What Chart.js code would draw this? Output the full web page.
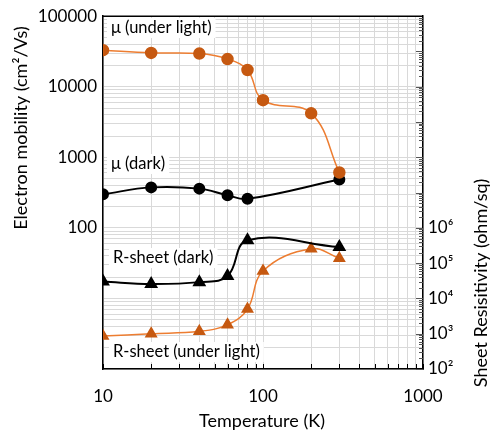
<!DOCTYPE html>
<html>
<head>
<meta charset="utf-8">
<script src="https://cdn.jsdelivr.net/npm/chart.js@4.4.1/dist/chart.umd.min.js"></script>
<style>
    html, body { margin: 0; padding: 0; background: #fff; }
    #wrap { width: 491px; height: 433px; }
</style>
</head>
<body>
<div id="wrap"><canvas id="mobilityChart" width="491" height="433"></canvas></div>
<script>
// temperatures (K)
const tempLight = [10, 20, 40, 60, 80, 100, 200, 300];
const tempDark = [10, 20, 40, 60, 80, 300];

// electron mobility (cm2/Vs), left axis
const muLight = [33000, 30200, 29500, 24700, 17300, 6450, 4200, 610];
const muDark = [299, 375, 360, 290, 258, 486];

// sheet resistivity (ohm/sq), right axis
const rDark = [30200, 25500, 29000, 43000, 447000, 285000];
const rLight = [860, 1000, 1170, 1800, 5000, 60000, 256000, 137000];

// tick labels
const xTickLabels = [10, 100, 1000];
const leftTickLabels = [100, 1000, 10000, 100000];
const rightTickLabels = { 2: '10²', 3: '10³', 4: '10⁴', 5: '10⁵', 6: '10⁶' };

const FONT = 'Lato, "Open Sans", sans-serif';
const ORANGE_LINE = '#ED7D31';
const ORANGE_MARK = '#C65911';
const GRID = '#d9d9d9';

function logTicks(min, max) {
    let out = [];
    for (let k = Math.floor(Math.log10(min)); k <= Math.ceil(Math.log10(max)); k++) {
        for (let m = 1; m <= 9; m++) {
            let v = m * Math.pow(10, k);
            if (v >= min && v <= max) out.push({ value: v });
        }
    }
    return out;
}

function isDecade(v) {
    let l = Math.log10(v);
    return Math.abs(l - Math.round(l)) < 1e-9;
}

function pts(xs, ys) {
    return xs.map((x, i) => ({ x: x, y: ys[i] }));
}

// text labels inside the plot, white boxes behind them
const seriesLabels = [
    { text: 'μ (under light)', x: 111, y: 28 },
    { text: 'μ (dark)', x: 111, y: 164 },
    { text: 'R-sheet (dark)', x: 113, y: 258 },
    { text: 'R-sheet (under light)', x: 113, y: 352 }
];

const decorPlugin = {
    id: 'decor',
    beforeDatasetsDraw(chart) {
        const ctx = chart.ctx;
        ctx.save();
        ctx.font = '16.5px ' + FONT;
        ctx.textBaseline = 'middle';
        seriesLabels.forEach(l => {
            let w = ctx.measureText(l.text).width;
            ctx.fillStyle = '#fff';
            ctx.fillRect(l.x - 4, l.y - 10, w + 8, 20);
            ctx.fillStyle = '#000';
            ctx.fillText(l.text, l.x, l.y);
        });
        ctx.restore();
    },
    afterDraw(chart) {
        const ctx = chart.ctx;
        const a = chart.chartArea;
        const xs = chart.scales.x;
        const y2 = chart.scales.y2;
        ctx.save();
        ctx.strokeStyle = '#000';
        ctx.lineWidth = 1;
        // inward ticks along the bottom
        xs.ticks.forEach(t => {
            let px = Math.round(xs.getPixelForValue(t.value)) + 0.5;
            ctx.beginPath();
            ctx.moveTo(px, a.bottom);
            ctx.lineTo(px, a.bottom - 5);
            ctx.stroke();
        });
        // inward ticks on the right axis
        ctx.strokeStyle = '#555';
        y2.ticks.forEach(t => {
            let py = Math.round(y2.getPixelForValue(t.value)) + 0.5;
            ctx.beginPath();
            ctx.moveTo(a.right, py);
            ctx.lineTo(a.right - (isDecade(t.value) ? 7 : 4), py);
            ctx.stroke();
        });
        // top border
        ctx.strokeStyle = '#000';
        ctx.lineWidth = 1.5;
        ctx.beginPath();
        ctx.moveTo(a.left, a.top);
        ctx.lineTo(a.right, a.top);
        ctx.stroke();

        // axis titles
        ctx.fillStyle = '#000';
        ctx.font = '18px ' + FONT;
        ctx.textAlign = 'center';
        ctx.textBaseline = 'middle';
        ctx.fillText('Temperature (K)', 262, 421);

        ctx.save();
        ctx.translate(21, 128);
        ctx.rotate(-Math.PI / 2);
        ctx.fillText('Electron mobility (cm²/Vs)', 0, 0);
        ctx.restore();

        ctx.save();
        ctx.translate(481, 283);
        ctx.rotate(-Math.PI / 2);
        ctx.fillText('Sheet Resisitivity (ohm/sq)', 0, 0);
        ctx.restore();
        ctx.restore();
    }
};

let ctx = document.getElementById('mobilityChart').getContext('2d');
new Chart(ctx, {
    type: 'scatter',
    data: {
        datasets: [
            {
                label: 'μ (under light)',
                data: pts(tempLight, muLight),
                yAxisID: 'y',
                showLine: true,
                tension: 0.4,
                borderColor: ORANGE_LINE,
                borderWidth: 1.5,
                pointStyle: 'circle',
                pointRadius: 5.5,
                pointBackgroundColor: ORANGE_MARK,
                pointBorderColor: ORANGE_MARK
            },
            {
                label: 'μ (dark)',
                data: pts(tempDark, muDark),
                yAxisID: 'y',
                showLine: true,
                tension: 0.4,
                borderColor: '#000',
                borderWidth: 2,
                pointStyle: 'circle',
                pointRadius: 5,
                pointBackgroundColor: '#000',
                pointBorderColor: '#000'
            },
            {
                label: 'R-sheet (dark)',
                data: pts(tempDark, rDark),
                yAxisID: 'y2',
                showLine: true,
                tension: 0.4,
                borderColor: '#000',
                borderWidth: 2,
                pointStyle: 'triangle',
                pointRadius: 6,
                pointBackgroundColor: '#000',
                pointBorderColor: '#000'
            },
            {
                label: 'R-sheet (under light)',
                data: pts(tempLight, rLight),
                yAxisID: 'y2',
                showLine: true,
                tension: 0.4,
                borderColor: ORANGE_LINE,
                borderWidth: 1.5,
                pointStyle: 'triangle',
                pointRadius: 6,
                pointBackgroundColor: ORANGE_MARK,
                pointBorderColor: ORANGE_MARK
            }
        ]
    },
    options: {
        responsive: false,
        animation: false,
        devicePixelRatio: 1,
        layout: { padding: { top: 13, left: 0, right: 0, bottom: 0 } },
        plugins: {
            legend: { display: false },
            tooltip: { enabled: false }
        },
        scales: {
            x: {
                type: 'logarithmic',
                min: 10,
                max: 1000,
                afterBuildTicks: s => { s.ticks = logTicks(10, 1000); },
                afterFit: s => { s.height = 64; },
                grid: { color: GRID, drawTicks: false },
                border: { color: '#000', width: 1.5 },
                ticks: {
                    autoSkip: false,
                    maxRotation: 0,
                    padding: 17,
                    color: '#000',
                    font: { family: FONT, size: 17 },
                    callback: v => xTickLabels.includes(v) ? String(v) : ''
                }
            },
            y: {
                type: 'logarithmic',
                position: 'left',
                min: 1,
                max: 100000,
                afterBuildTicks: s => { s.ticks = logTicks(1, 100000); },
                afterFit: s => { s.width = 103; },
                grid: { color: GRID, drawTicks: false },
                border: { color: '#000', width: 1.5 },
                ticks: {
                    autoSkip: false,
                    padding: 6,
                    color: '#000',
                    font: { family: FONT, size: 17 },
                    callback: v => leftTickLabels.includes(v) ? String(v) : ''
                }
            },
            y2: {
                type: 'logarithmic',
                position: 'right',
                min: 100,
                max: 1e12,
                afterBuildTicks: s => { s.ticks = logTicks(100, 1e12); },
                afterFit: s => { s.width = 68; },
                grid: { drawOnChartArea: false, drawTicks: false },
                border: { color: '#000', width: 1.5 },
                ticks: {
                    autoSkip: false,
                    padding: 5,
                    color: '#000',
                    font: { family: FONT, size: 17 },
                    callback: v => {
                        if (!isDecade(v)) return '';
                        return rightTickLabels[Math.round(Math.log10(v))] || '';
                    }
                }
            }
        }
    },
    plugins: [decorPlugin]
});
</script>
</body>
</html>
